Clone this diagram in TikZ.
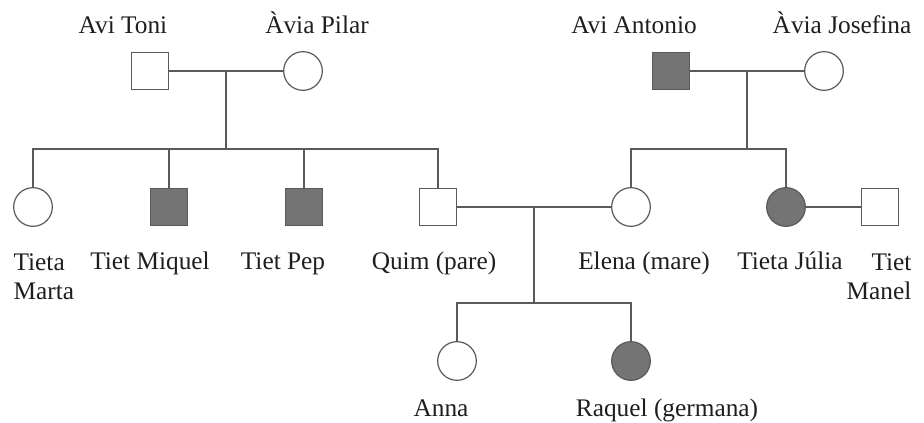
\documentclass[tikz,border=0pt]{standalone}
\usepackage{fontspec}
\setmainfont{Liberation Serif}
\definecolor{linec}{HTML}{5A5A5A}
\definecolor{fillc}{HTML}{747474}
\definecolor{txtc}{HTML}{1E1E1E}
\begin{document}
\begin{tikzpicture}[x=0.75pt,y=-0.75pt,
  line width=0.9pt,
  male/.style={draw=linec,rectangle,minimum size=27.5pt,inner sep=0pt,fill=white},
  female/.style={draw=linec,circle,minimum size=29pt,inner sep=0pt,fill=white},
  aff/.style={fill=fillc},
  lbl/.style={text=txtc,font=\fontsize{19}{22}\selectfont,inner sep=0pt,anchor=base},
  link/.style={draw=linec}]
\useasboundingbox (0,0) rectangle (924,423);
% generation I
\node[male] (toni) at (150,71) {};
\node[female] (pilar) at (303,71) {};
\node[male,aff] (antonio) at (671,71) {};
\node[female] (josefina) at (824,71) {};
% generation II
\node[female] (marta) at (33,207) {};
\node[male,aff] (miquel) at (169,207) {};
\node[male,aff] (pep) at (304,207) {};
\node[male] (quim) at (438,207) {};
\node[female] (elena) at (631,207) {};
\node[female,aff] (julia) at (786,207) {};
\node[male] (manel) at (880,207) {};
% generation III
\node[female] (anna) at (457,361) {};
\node[female,aff] (raquel) at (631,361) {};
% coordinates
\coordinate (c1) at (226,71);
\coordinate (s1) at (226,149);
\coordinate (c2) at (747,71);
\coordinate (s2) at (747,149);
\coordinate (c3) at (534,207);
\coordinate (s3) at (534,303);
% connectors
\draw[link] (toni.east) -- (pilar.west);
\draw[link] (c1) -- (s1);
\draw[link] (marta.north) |- (s1) -| (quim.north);
\draw[link] (miquel.north) -- (miquel.north |- s1);
\draw[link] (pep.north) -- (pep.north |- s1);
\draw[link] (antonio.east) -- (josefina.west);
\draw[link] (c2) -- (s2);
\draw[link] (elena.north) |- (s2) -| (julia.north);
\draw[link] (quim.east) -- (elena.west);
\draw[link] (c3) -- (s3);
\draw[link] (anna.north) |- (s3) -| (raquel.north);
\draw[link] (julia.east) -- (manel.west);
% labels
\node[lbl] (ltoni) at (123,34) {Avi Toni};
\node[lbl] (lpilar) at (317,34) {Àvia Pilar};
\node[lbl] (lantonio) at (634,34) {Avi Antonio};
\node[lbl] (ljosefina) at (842,34) {Àvia Josefina};
\node[lbl,anchor=base west,align=left] (lmarta) at (13,300) {Tieta\\Marta};
\node[lbl] (lmiquel) at (150,270) {Tiet Miquel};
\node[lbl] (lpep) at (283,270) {Tiet Pep};
\node[lbl] (lquim) at (434,270) {Quim (pare)};
\node[lbl] (lelena) at (644,270) {Elena (mare)};
\node[lbl] (ljulia) at (790,270) {Tieta Júlia};
\node[lbl,anchor=base east,align=right] (lmanel) at (912,300) {Tiet\\Manel};
\node[lbl] (lanna) at (441,417) {Anna};
\node[lbl] (lraquel) at (667,417) {Raquel (germana)};
\end{tikzpicture}
\end{document}
